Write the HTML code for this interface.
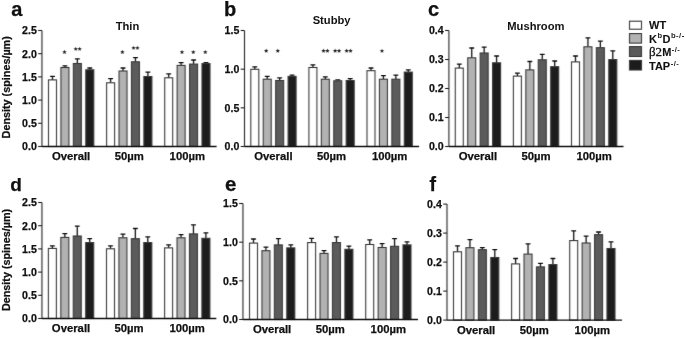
<!DOCTYPE html>
<html><head><meta charset="utf-8"><style>
html,body{margin:0;padding:0;background:#fff;width:685px;height:338px;overflow:hidden}
svg{display:block;filter:grayscale(1)}
text{font-family:"Liberation Sans", sans-serif;font-weight:bold;fill:#111;stroke:#111;stroke-width:0.25px}
.pl{font-size:20px}
.tt{font-size:11.2px;stroke:none}
.yl{font-size:10.8px}
.xl{font-size:11.3px}
.tk{font-size:10.6px}
.lg{font-size:11px;stroke-width:0.1px}
.sp{font-size:7.6px;font-weight:bold;stroke:none;fill:#222;letter-spacing:0.45px}
.beta{font-family:"Liberation Serif", serif;font-weight:normal;font-size:13px;stroke:#1a1a1a;stroke-width:0.3}
.ax{stroke:#222;stroke-width:1.1;fill:none}
.xax{stroke:#111;stroke-width:1.3;fill:none}
.eb{stroke:#111;stroke-width:1.3;fill:none}
.bar{stroke:#3a3a3a;stroke-width:1.1}
</style></head><body>
<svg width="685" height="338" viewBox="0 0 685 338">
<defs><filter id="bl" x="0" y="0" width="685" height="338" filterUnits="userSpaceOnUse" color-interpolation-filters="sRGB"><feConvolveMatrix order="3" kernelMatrix="0.0060 0.0380 0.0060 0.1080 0.6840 0.1080 0.0060 0.0380 0.0060" edgeMode="none"/></filter></defs>
<g filter="url(#bl)">
<path d="M52.50 79.90V76.40M50.10 76.40H54.90" class="eb"/>
<rect x="48.50" y="79.90" width="8.00" height="66.60" fill="#ffffff" class="bar"/>
<path d="M64.93 67.50V65.90M62.53 65.90H67.33" class="eb"/>
<rect x="60.93" y="67.50" width="8.00" height="79.00" fill="#b2b2b2" class="bar"/>
<path d="M77.36 63.50V58.90M74.96 58.90H79.76" class="eb"/>
<rect x="73.36" y="63.50" width="8.00" height="83.00" fill="#5b5b5b" class="bar"/>
<path d="M89.79 69.80V68.00M87.39 68.00H92.19" class="eb"/>
<rect x="85.79" y="69.80" width="8.00" height="76.70" fill="#1c1c1c" class="bar"/>
<path d="M110.60 82.80V78.70M108.20 78.70H113.00" class="eb"/>
<rect x="106.60" y="82.80" width="8.00" height="63.70" fill="#ffffff" class="bar"/>
<path d="M123.03 71.00V68.00M120.63 68.00H125.43" class="eb"/>
<rect x="119.03" y="71.00" width="8.00" height="75.50" fill="#b2b2b2" class="bar"/>
<path d="M135.46 61.80V57.70M133.06 57.70H137.86" class="eb"/>
<rect x="131.46" y="61.80" width="8.00" height="84.70" fill="#5b5b5b" class="bar"/>
<path d="M147.89 76.50V72.10M145.49 72.10H150.29" class="eb"/>
<rect x="143.89" y="76.50" width="8.00" height="70.00" fill="#1c1c1c" class="bar"/>
<path d="M168.70 77.80V73.90M166.30 73.90H171.10" class="eb"/>
<rect x="164.70" y="77.80" width="8.00" height="68.70" fill="#ffffff" class="bar"/>
<path d="M181.13 65.40V62.70M178.73 62.70H183.53" class="eb"/>
<rect x="177.13" y="65.40" width="8.00" height="81.10" fill="#b2b2b2" class="bar"/>
<path d="M193.56 64.10V60.00M191.16 60.00H195.96" class="eb"/>
<rect x="189.56" y="64.10" width="8.00" height="82.40" fill="#5b5b5b" class="bar"/>
<path d="M205.99 63.60V62.70M203.59 62.70H208.39" class="eb"/>
<rect x="201.99" y="63.60" width="8.00" height="82.90" fill="#1c1c1c" class="bar"/>
<path d="M41.95 30.50V146.50" class="ax"/>
<path d="M41.95 146.50H216.60" class="xax"/>
<path d="M38.15 146.50H41.95" class="ax"/>
<path d="M38.15 123.30H41.95" class="ax"/>
<path d="M38.15 100.10H41.95" class="ax"/>
<path d="M38.15 76.90H41.95" class="ax"/>
<path d="M38.15 53.70H41.95" class="ax"/>
<path d="M38.15 30.50H41.95" class="ax"/>
<polygon points="64.50,49.80 65.11,51.26 66.69,51.39 65.48,52.42 65.85,53.96 64.50,53.13 63.15,53.96 63.52,52.42 62.31,51.39 63.89,51.26" fill="#222"/>
<polygon points="75.75,46.70 76.36,48.16 77.94,48.29 76.73,49.32 77.10,50.86 75.75,50.03 74.40,50.86 74.77,49.32 73.56,48.29 75.14,48.16" fill="#222"/>
<polygon points="79.65,46.70 80.26,48.16 81.84,48.29 80.63,49.32 81.00,50.86 79.65,50.03 78.30,50.86 78.67,49.32 77.46,48.29 79.04,48.16" fill="#222"/>
<polygon points="122.40,49.80 123.01,51.26 124.59,51.39 123.38,52.42 123.75,53.96 122.40,53.13 121.05,53.96 121.42,52.42 120.21,51.39 121.79,51.26" fill="#222"/>
<polygon points="133.55,45.70 134.16,47.16 135.74,47.29 134.53,48.32 134.90,49.86 133.55,49.03 132.20,49.86 132.57,48.32 131.36,47.29 132.94,47.16" fill="#222"/>
<polygon points="137.45,45.70 138.06,47.16 139.64,47.29 138.43,48.32 138.80,49.86 137.45,49.03 136.10,49.86 136.47,48.32 135.26,47.29 136.84,47.16" fill="#222"/>
<polygon points="182.00,49.90 182.61,51.36 184.19,51.49 182.98,52.52 183.35,54.06 182.00,53.23 180.65,54.06 181.02,52.52 179.81,51.49 181.39,51.36" fill="#222"/>
<polygon points="193.30,49.90 193.91,51.36 195.49,51.49 194.28,52.52 194.65,54.06 193.30,53.23 191.95,54.06 192.32,52.52 191.11,51.49 192.69,51.36" fill="#222"/>
<polygon points="205.30,49.90 205.91,51.36 207.49,51.49 206.28,52.52 206.65,54.06 205.30,53.23 203.95,54.06 204.32,52.52 203.11,51.49 204.69,51.36" fill="#222"/>
<path d="M254.80 69.30V66.80M252.40 66.80H257.20" class="eb"/>
<rect x="250.80" y="69.30" width="8.00" height="77.20" fill="#ffffff" class="bar"/>
<path d="M267.23 79.20V76.40M264.83 76.40H269.63" class="eb"/>
<rect x="263.23" y="79.20" width="8.00" height="67.30" fill="#b2b2b2" class="bar"/>
<path d="M279.66 80.50V77.80M277.26 77.80H282.06" class="eb"/>
<rect x="275.66" y="80.50" width="8.00" height="66.00" fill="#5b5b5b" class="bar"/>
<path d="M292.09 76.40V75.10M289.69 75.10H294.49" class="eb"/>
<rect x="288.09" y="76.40" width="8.00" height="70.10" fill="#1c1c1c" class="bar"/>
<path d="M312.90 67.50V64.80M310.50 64.80H315.30" class="eb"/>
<rect x="308.90" y="67.50" width="8.00" height="79.00" fill="#ffffff" class="bar"/>
<path d="M325.33 79.20V76.90M322.93 76.90H327.73" class="eb"/>
<rect x="321.33" y="79.20" width="8.00" height="67.30" fill="#b2b2b2" class="bar"/>
<path d="M337.76 80.80V79.90M335.36 79.90H340.16" class="eb"/>
<rect x="333.76" y="80.80" width="8.00" height="65.70" fill="#5b5b5b" class="bar"/>
<path d="M350.19 80.50V78.70M347.79 78.70H352.59" class="eb"/>
<rect x="346.19" y="80.50" width="8.00" height="66.00" fill="#1c1c1c" class="bar"/>
<path d="M371.00 70.70V68.00M368.60 68.00H373.40" class="eb"/>
<rect x="367.00" y="70.70" width="8.00" height="75.80" fill="#ffffff" class="bar"/>
<path d="M383.43 79.20V75.70M381.03 75.70H385.83" class="eb"/>
<rect x="379.43" y="79.20" width="8.00" height="67.30" fill="#b2b2b2" class="bar"/>
<path d="M395.86 79.20V75.10M393.46 75.10H398.26" class="eb"/>
<rect x="391.86" y="79.20" width="8.00" height="67.30" fill="#5b5b5b" class="bar"/>
<path d="M408.29 72.10V69.80M405.89 69.80H410.69" class="eb"/>
<rect x="404.29" y="72.10" width="8.00" height="74.40" fill="#1c1c1c" class="bar"/>
<path d="M244.50 30.50V146.50" class="ax"/>
<path d="M244.50 146.50H419.10" class="xax"/>
<path d="M240.70 146.50H244.50" class="ax"/>
<path d="M240.70 107.83H244.50" class="ax"/>
<path d="M240.70 69.17H244.50" class="ax"/>
<path d="M240.70 30.50H244.50" class="ax"/>
<polygon points="266.20,48.60 266.81,50.06 268.39,50.19 267.18,51.22 267.55,52.76 266.20,51.93 264.85,52.76 265.22,51.22 264.01,50.19 265.59,50.06" fill="#222"/>
<polygon points="277.80,48.60 278.41,50.06 279.99,50.19 278.78,51.22 279.15,52.76 277.80,51.93 276.45,52.76 276.82,51.22 275.61,50.19 277.19,50.06" fill="#222"/>
<polygon points="323.55,48.60 324.16,50.06 325.74,50.19 324.53,51.22 324.90,52.76 323.55,51.93 322.20,52.76 322.57,51.22 321.36,50.19 322.94,50.06" fill="#222"/>
<polygon points="327.45,48.60 328.06,50.06 329.64,50.19 328.43,51.22 328.80,52.76 327.45,51.93 326.10,52.76 326.47,51.22 325.26,50.19 326.84,50.06" fill="#222"/>
<polygon points="335.15,48.60 335.76,50.06 337.34,50.19 336.13,51.22 336.50,52.76 335.15,51.93 333.80,52.76 334.17,51.22 332.96,50.19 334.54,50.06" fill="#222"/>
<polygon points="339.05,48.60 339.66,50.06 341.24,50.19 340.03,51.22 340.40,52.76 339.05,51.93 337.70,52.76 338.07,51.22 336.86,50.19 338.44,50.06" fill="#222"/>
<polygon points="346.65,48.60 347.26,50.06 348.84,50.19 347.63,51.22 348.00,52.76 346.65,51.93 345.30,52.76 345.67,51.22 344.46,50.19 346.04,50.06" fill="#222"/>
<polygon points="350.55,48.60 351.16,50.06 352.74,50.19 351.53,51.22 351.90,52.76 350.55,51.93 349.20,52.76 349.57,51.22 348.36,50.19 349.94,50.06" fill="#222"/>
<polygon points="382.00,48.70 382.61,50.16 384.19,50.29 382.98,51.32 383.35,52.86 382.00,52.03 380.65,52.86 381.02,51.32 379.81,50.29 381.39,50.16" fill="#222"/>
<path d="M459.30 68.10V64.20M456.90 64.20H461.70" class="eb"/>
<rect x="455.30" y="68.10" width="8.00" height="78.40" fill="#ffffff" class="bar"/>
<path d="M471.73 57.80V48.00M469.33 48.00H474.13" class="eb"/>
<rect x="467.73" y="57.80" width="8.00" height="88.70" fill="#b2b2b2" class="bar"/>
<path d="M484.16 53.00V47.20M481.76 47.20H486.56" class="eb"/>
<rect x="480.16" y="53.00" width="8.00" height="93.50" fill="#5b5b5b" class="bar"/>
<path d="M496.59 62.80V56.00M494.19 56.00H498.99" class="eb"/>
<rect x="492.59" y="62.80" width="8.00" height="83.70" fill="#1c1c1c" class="bar"/>
<path d="M517.40 76.10V73.10M515.00 73.10H519.80" class="eb"/>
<rect x="513.40" y="76.10" width="8.00" height="70.40" fill="#ffffff" class="bar"/>
<path d="M529.83 69.90V61.50M527.43 61.50H532.23" class="eb"/>
<rect x="525.83" y="69.90" width="8.00" height="76.60" fill="#b2b2b2" class="bar"/>
<path d="M542.26 59.80V54.30M539.86 54.30H544.66" class="eb"/>
<rect x="538.26" y="59.80" width="8.00" height="86.70" fill="#5b5b5b" class="bar"/>
<path d="M554.69 66.70V61.00M552.29 61.00H557.09" class="eb"/>
<rect x="550.69" y="66.70" width="8.00" height="79.80" fill="#1c1c1c" class="bar"/>
<path d="M575.50 61.90V56.00M573.10 56.00H577.90" class="eb"/>
<rect x="571.50" y="61.90" width="8.00" height="84.60" fill="#ffffff" class="bar"/>
<path d="M587.93 46.80V37.90M585.53 37.90H590.33" class="eb"/>
<rect x="583.93" y="46.80" width="8.00" height="99.70" fill="#b2b2b2" class="bar"/>
<path d="M600.36 47.70V41.10M597.96 41.10H602.76" class="eb"/>
<rect x="596.36" y="47.70" width="8.00" height="98.80" fill="#5b5b5b" class="bar"/>
<path d="M612.79 59.60V50.90M610.39 50.90H615.19" class="eb"/>
<rect x="608.79" y="59.60" width="8.00" height="86.90" fill="#1c1c1c" class="bar"/>
<path d="M448.90 30.50V146.50" class="ax"/>
<path d="M448.90 146.50H623.50" class="xax"/>
<path d="M445.10 146.50H448.90" class="ax"/>
<path d="M445.10 117.50H448.90" class="ax"/>
<path d="M445.10 88.50H448.90" class="ax"/>
<path d="M445.10 59.50H448.90" class="ax"/>
<path d="M445.10 30.50H448.90" class="ax"/>
<path d="M52.40 248.40V245.80M50.00 245.80H54.80" class="eb"/>
<rect x="48.40" y="248.40" width="8.00" height="70.10" fill="#ffffff" class="bar"/>
<path d="M64.83 237.40V233.70M62.43 233.70H67.23" class="eb"/>
<rect x="60.83" y="237.40" width="8.00" height="81.10" fill="#b2b2b2" class="bar"/>
<path d="M77.26 236.00V226.20M74.86 226.20H79.66" class="eb"/>
<rect x="73.26" y="236.00" width="8.00" height="82.50" fill="#5b5b5b" class="bar"/>
<path d="M89.69 242.60V238.70M87.29 238.70H92.09" class="eb"/>
<rect x="85.69" y="242.60" width="8.00" height="75.90" fill="#1c1c1c" class="bar"/>
<path d="M110.50 248.80V245.80M108.10 245.80H112.90" class="eb"/>
<rect x="106.50" y="248.80" width="8.00" height="69.70" fill="#ffffff" class="bar"/>
<path d="M122.93 237.80V234.20M120.53 234.20H125.33" class="eb"/>
<rect x="118.93" y="237.80" width="8.00" height="80.70" fill="#b2b2b2" class="bar"/>
<path d="M135.36 238.70V228.50M132.96 228.50H137.76" class="eb"/>
<rect x="131.36" y="238.70" width="8.00" height="79.80" fill="#5b5b5b" class="bar"/>
<path d="M147.79 242.60V236.90M145.39 236.90H150.19" class="eb"/>
<rect x="143.79" y="242.60" width="8.00" height="75.90" fill="#1c1c1c" class="bar"/>
<path d="M168.60 247.90V244.90M166.20 244.90H171.00" class="eb"/>
<rect x="164.60" y="247.90" width="8.00" height="70.60" fill="#ffffff" class="bar"/>
<path d="M181.03 237.80V234.60M178.63 234.60H183.43" class="eb"/>
<rect x="177.03" y="237.80" width="8.00" height="80.70" fill="#b2b2b2" class="bar"/>
<path d="M193.46 233.90V224.80M191.06 224.80H195.86" class="eb"/>
<rect x="189.46" y="233.90" width="8.00" height="84.60" fill="#5b5b5b" class="bar"/>
<path d="M205.89 238.30V232.80M203.49 232.80H208.29" class="eb"/>
<rect x="201.89" y="238.30" width="8.00" height="80.20" fill="#1c1c1c" class="bar"/>
<path d="M41.95 202.50V318.50" class="ax"/>
<path d="M41.95 318.50H216.30" class="xax"/>
<path d="M38.15 318.50H41.95" class="ax"/>
<path d="M38.15 295.30H41.95" class="ax"/>
<path d="M38.15 272.10H41.95" class="ax"/>
<path d="M38.15 248.90H41.95" class="ax"/>
<path d="M38.15 225.70H41.95" class="ax"/>
<path d="M38.15 202.50H41.95" class="ax"/>
<path d="M253.50 243.10V239.00M251.10 239.00H255.90" class="eb"/>
<rect x="249.50" y="243.10" width="8.00" height="76.40" fill="#ffffff" class="bar"/>
<path d="M265.93 250.70V247.20M263.53 247.20H268.33" class="eb"/>
<rect x="261.93" y="250.70" width="8.00" height="68.80" fill="#b2b2b2" class="bar"/>
<path d="M278.36 244.90V238.70M275.96 238.70H280.76" class="eb"/>
<rect x="274.36" y="244.90" width="8.00" height="74.60" fill="#5b5b5b" class="bar"/>
<path d="M290.79 247.90V244.90M288.39 244.90H293.19" class="eb"/>
<rect x="286.79" y="247.90" width="8.00" height="71.60" fill="#1c1c1c" class="bar"/>
<path d="M311.60 242.60V238.30M309.20 238.30H314.00" class="eb"/>
<rect x="307.60" y="242.60" width="8.00" height="76.90" fill="#ffffff" class="bar"/>
<path d="M324.03 253.40V250.60M321.63 250.60H326.43" class="eb"/>
<rect x="320.03" y="253.40" width="8.00" height="66.10" fill="#b2b2b2" class="bar"/>
<path d="M336.46 242.60V236.90M334.06 236.90H338.86" class="eb"/>
<rect x="332.46" y="242.60" width="8.00" height="76.90" fill="#5b5b5b" class="bar"/>
<path d="M348.89 249.30V246.10M346.49 246.10H351.29" class="eb"/>
<rect x="344.89" y="249.30" width="8.00" height="70.20" fill="#1c1c1c" class="bar"/>
<path d="M369.70 244.50V239.90M367.30 239.90H372.10" class="eb"/>
<rect x="365.70" y="244.50" width="8.00" height="75.00" fill="#ffffff" class="bar"/>
<path d="M382.13 247.50V243.60M379.73 243.60H384.53" class="eb"/>
<rect x="378.13" y="247.50" width="8.00" height="72.00" fill="#b2b2b2" class="bar"/>
<path d="M394.56 246.30V238.70M392.16 238.70H396.96" class="eb"/>
<rect x="390.56" y="246.30" width="8.00" height="73.20" fill="#5b5b5b" class="bar"/>
<path d="M406.99 244.90V241.90M404.59 241.90H409.39" class="eb"/>
<rect x="402.99" y="244.90" width="8.00" height="74.60" fill="#1c1c1c" class="bar"/>
<path d="M242.95 203.50V319.50" class="ax"/>
<path d="M242.95 319.50H418.00" class="xax"/>
<path d="M239.15 319.50H242.95" class="ax"/>
<path d="M239.15 280.83H242.95" class="ax"/>
<path d="M239.15 242.17H242.95" class="ax"/>
<path d="M239.15 203.50H242.95" class="ax"/>
<path d="M457.50 251.80V245.90M455.10 245.90H459.90" class="eb"/>
<rect x="453.50" y="251.80" width="8.00" height="68.30" fill="#ffffff" class="bar"/>
<path d="M469.93 247.70V239.70M467.53 239.70H472.33" class="eb"/>
<rect x="465.93" y="247.70" width="8.00" height="72.40" fill="#b2b2b2" class="bar"/>
<path d="M482.36 249.70V247.70M479.96 247.70H484.76" class="eb"/>
<rect x="478.36" y="249.70" width="8.00" height="70.40" fill="#5b5b5b" class="bar"/>
<path d="M494.79 257.50V249.70M492.39 249.70H497.19" class="eb"/>
<rect x="490.79" y="257.50" width="8.00" height="62.60" fill="#1c1c1c" class="bar"/>
<path d="M515.60 263.90V258.50M513.20 258.50H518.00" class="eb"/>
<rect x="511.60" y="263.90" width="8.00" height="56.20" fill="#ffffff" class="bar"/>
<path d="M528.03 254.10V243.80M525.63 243.80H530.43" class="eb"/>
<rect x="524.03" y="254.10" width="8.00" height="66.00" fill="#b2b2b2" class="bar"/>
<path d="M540.46 266.90V263.30M538.06 263.30H542.86" class="eb"/>
<rect x="536.46" y="266.90" width="8.00" height="53.20" fill="#5b5b5b" class="bar"/>
<path d="M552.89 264.60V258.50M550.49 258.50H555.29" class="eb"/>
<rect x="548.89" y="264.60" width="8.00" height="55.50" fill="#1c1c1c" class="bar"/>
<path d="M573.70 240.60V230.80M571.30 230.80H576.10" class="eb"/>
<rect x="569.70" y="240.60" width="8.00" height="79.50" fill="#ffffff" class="bar"/>
<path d="M586.13 243.00V236.10M583.73 236.10H588.53" class="eb"/>
<rect x="582.13" y="243.00" width="8.00" height="77.10" fill="#b2b2b2" class="bar"/>
<path d="M598.56 234.70V232.00M596.16 232.00H600.96" class="eb"/>
<rect x="594.56" y="234.70" width="8.00" height="85.40" fill="#5b5b5b" class="bar"/>
<path d="M610.99 248.50V241.80M608.59 241.80H613.39" class="eb"/>
<rect x="606.99" y="248.50" width="8.00" height="71.60" fill="#1c1c1c" class="bar"/>
<path d="M447.00 204.10V320.10" class="ax"/>
<path d="M447.00 320.10H622.00" class="xax"/>
<path d="M443.20 320.10H447.00" class="ax"/>
<path d="M443.20 291.10H447.00" class="ax"/>
<path d="M443.20 262.10H447.00" class="ax"/>
<path d="M443.20 233.10H447.00" class="ax"/>
<path d="M443.20 204.10H447.00" class="ax"/>
<rect x="629.5" y="21.2" width="12.0" height="8.0" fill="#ffffff" class="bar"/>
<rect x="629.5" y="33.6" width="12.0" height="9.5" fill="#b2b2b2" class="bar"/>
<rect x="629.5" y="46.6" width="12.0" height="9.9" fill="#5b5b5b" class="bar"/>
<rect x="629.5" y="60.4" width="12.0" height="9.6" fill="#1c1c1c" class="bar"/>
</g>
<text x="11.3" y="16.0" class="pl" style="font-size:20px">a</text>
<text x="127.5" y="29.6" class="tt" text-anchor="middle">Thin</text>
<text transform="translate(10.3,87.3) rotate(-90)" class="yl" text-anchor="middle">Density (spines/µm)</text>
<text x="71.1" y="160.4" class="xl" text-anchor="middle">Overall</text>
<text x="129.2" y="160.4" class="xl" text-anchor="middle">50µm</text>
<text x="187.3" y="160.4" class="xl" text-anchor="middle">100µm</text>
<text x="36.8" y="150.4" class="tk" text-anchor="end">0.0</text>
<text x="36.8" y="127.2" class="tk" text-anchor="end">0.5</text>
<text x="36.8" y="104.0" class="tk" text-anchor="end">1.0</text>
<text x="36.8" y="80.8" class="tk" text-anchor="end">1.5</text>
<text x="36.8" y="57.6" class="tk" text-anchor="end">2.0</text>
<text x="36.8" y="34.4" class="tk" text-anchor="end">2.5</text>
<text x="224.0" y="15.6" class="pl" style="font-size:20px">b</text>
<text x="331.6" y="23.8" class="tt" text-anchor="middle">Stubby</text>
<text x="273.4" y="160.4" class="xl" text-anchor="middle">Overall</text>
<text x="331.5" y="160.4" class="xl" text-anchor="middle">50µm</text>
<text x="389.6" y="160.4" class="xl" text-anchor="middle">100µm</text>
<text x="239.3" y="150.4" class="tk" text-anchor="end">0.0</text>
<text x="239.3" y="111.7" class="tk" text-anchor="end">0.5</text>
<text x="239.3" y="73.1" class="tk" text-anchor="end">1.0</text>
<text x="239.3" y="34.4" class="tk" text-anchor="end">1.5</text>
<text x="428.0" y="16.0" class="pl" style="font-size:20px">c</text>
<text x="535.9" y="30.4" class="tt" text-anchor="middle">Mushroom</text>
<text x="477.9" y="160.4" class="xl" text-anchor="middle">Overall</text>
<text x="536.0" y="160.4" class="xl" text-anchor="middle">50µm</text>
<text x="594.1" y="160.4" class="xl" text-anchor="middle">100µm</text>
<text x="443.7" y="150.4" class="tk" text-anchor="end">0.0</text>
<text x="443.7" y="121.4" class="tk" text-anchor="end">0.1</text>
<text x="443.7" y="92.4" class="tk" text-anchor="end">0.2</text>
<text x="443.7" y="63.4" class="tk" text-anchor="end">0.3</text>
<text x="443.7" y="34.4" class="tk" text-anchor="end">0.4</text>
<text x="10.3" y="191.0" class="pl" style="font-size:19px">d</text>
<text transform="translate(10.3,260.0) rotate(-90)" class="yl" text-anchor="middle">Density (spines/µm)</text>
<text x="71.0" y="332.4" class="xl" text-anchor="middle">Overall</text>
<text x="129.1" y="332.4" class="xl" text-anchor="middle">50µm</text>
<text x="187.2" y="332.4" class="xl" text-anchor="middle">100µm</text>
<text x="36.8" y="322.4" class="tk" text-anchor="end">0.0</text>
<text x="36.8" y="299.2" class="tk" text-anchor="end">0.5</text>
<text x="36.8" y="276.0" class="tk" text-anchor="end">1.0</text>
<text x="36.8" y="252.8" class="tk" text-anchor="end">1.5</text>
<text x="36.8" y="229.6" class="tk" text-anchor="end">2.0</text>
<text x="36.8" y="206.4" class="tk" text-anchor="end">2.5</text>
<text x="224.9" y="191.4" class="pl" style="font-size:20.5px">e</text>
<text x="272.1" y="333.4" class="xl" text-anchor="middle">Overall</text>
<text x="330.2" y="333.4" class="xl" text-anchor="middle">50µm</text>
<text x="388.3" y="333.4" class="xl" text-anchor="middle">100µm</text>
<text x="237.8" y="323.4" class="tk" text-anchor="end">0.0</text>
<text x="237.8" y="284.7" class="tk" text-anchor="end">0.5</text>
<text x="237.8" y="246.1" class="tk" text-anchor="end">1.0</text>
<text x="237.8" y="207.4" class="tk" text-anchor="end">1.5</text>
<text x="429.6" y="191.0" class="pl" style="font-size:19.5px">f</text>
<text x="476.1" y="334.0" class="xl" text-anchor="middle">Overall</text>
<text x="534.2" y="334.0" class="xl" text-anchor="middle">50µm</text>
<text x="592.3" y="334.0" class="xl" text-anchor="middle">100µm</text>
<text x="441.8" y="324.0" class="tk" text-anchor="end">0.0</text>
<text x="441.8" y="295.0" class="tk" text-anchor="end">0.1</text>
<text x="441.8" y="266.0" class="tk" text-anchor="end">0.2</text>
<text x="441.8" y="237.0" class="tk" text-anchor="end">0.3</text>
<text x="441.8" y="208.0" class="tk" text-anchor="end">0.4</text>
<text x="649" y="29.4" class="lg">WT</text>
<text x="649" y="42.6" class="lg">K<tspan class="sp" dx="0.5" dy="-4.2">b</tspan><tspan dy="4.2">D</tspan><tspan class="sp" dx="0.5" dy="-4.2">b-/-</tspan></text>
<text x="649" y="56.2" class="lg"><tspan class="beta">β2</tspan>M<tspan class="sp" dx="0.5" dy="-4.2">-/-</tspan></text>
<text x="649" y="69.7" class="lg">TAP<tspan class="sp" dx="0.5" dy="-4.2">-/-</tspan></text>
</svg>
</body></html>
